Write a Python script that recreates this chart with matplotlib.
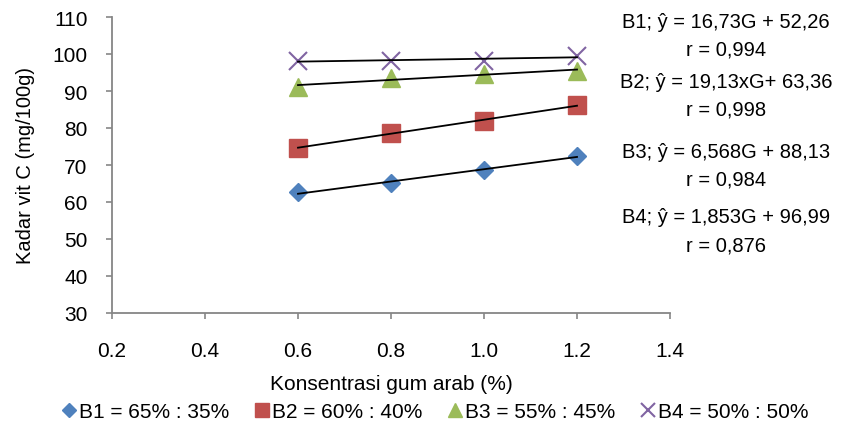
import numpy as np
import matplotlib.pyplot as plt

# data
gum = [0.6, 0.8, 1.0, 1.2]
b1 = [62.6, 65.1, 68.6, 72.5]
b2 = [74.7, 78.6, 81.9, 86.2]
b3 = [91.2, 93.5, 94.6, 95.5]
b4 = [98.2, 98.2, 98.2, 99.5]
labels = ['B1 = 65% : 35%', 'B2 = 60% : 40%', 'B3 = 55% : 45%', 'B4 = 50% : 50%']
equations = [
    ('B1; ŷ = 16,73G + 52,26', 'r = 0,994'),
    ('B2; ŷ = 19,13xG+ 63,36', 'r = 0,998'),
    ('B3; ŷ = 6,568G + 88,13', 'r = 0,984'),
    ('B4; ŷ = 1,853G + 96,99', 'r = 0,876'),
]

plt.rcParams['font.family'] = ['Liberation Sans', 'DejaVu Sans']

fig = plt.figure(figsize=(8.43, 4.31), dpi=100)
ax = fig.add_axes([112 / 843, 1 - 314 / 431, 558 / 843, 296 / 431])

series = [b1, b2, b3, b4]
colors = ['#4F81BD', '#C0504D', '#9BBB59', '#8064A2']
markers = ['D', 's', '^', 'x']
sizes = [9.5, 13, 13, 13]

for ys, c, m, s, lab in zip(series, colors, markers, sizes, labels):
    k, b = np.polyfit(gum, ys, 1)
    xs = np.array([gum[0], gum[-1]])
    ax.plot(xs, k * xs + b, color='black', lw=1.3, zorder=3)
    if m == 'x':
        ax.plot(gum, ys, ls='none', marker=m, ms=s, mew=1.5, color=c, label=lab, zorder=2)
    else:
        ax.plot(gum, ys, ls='none', marker=m, ms=s, color=c, mec=c, label=lab, zorder=2)

ax.set_xlim(0.2, 1.4)
ax.set_ylim(30, 110)
ax.set_xticks([0.2, 0.4, 0.6, 0.8, 1.0, 1.2, 1.4])
ax.set_xticklabels(['0.2', '0.4', '0.6', '0.8', '1.0', '1.2', '1.4'])
ax.set_yticks(range(30, 111, 10))
ax.spines['top'].set_visible(False)
ax.spines['right'].set_visible(False)
for sp in ('left', 'bottom'):
    ax.spines[sp].set_color('#868686')
    ax.spines[sp].set_linewidth(1.3)
ax.tick_params(direction='out', length=4.5, width=1.2, color='#868686', labelsize=15)
ax.tick_params(axis='x', pad=16)
ax.tick_params(axis='y', pad=13)
ax.set_xlabel('Konsentrasi gum arab (%)', fontsize=15, labelpad=10)
ax.set_ylabel('Kadar vit C (mg/100g)', fontsize=14.5, labelpad=13)

ys_txt = [22, 82, 152, 218]
for (eq, r), yp in zip(equations, ys_txt):
    fig.text(726 / 843, 1 - yp / 431, eq, ha='center', va='center', fontsize=14.5)
    fig.text(726 / 843, 1 - (yp + 28) / 431, r, ha='center', va='center', fontsize=14.5)

fig.legend(loc='center', bbox_to_anchor=(0.514, 1 - 413 / 431), ncol=4, frameon=False,
           fontsize=15, handletextpad=0.0, columnspacing=1.05, handlelength=1.0,
           markerscale=0.8)

fig.savefig('out.png', dpi=100)
